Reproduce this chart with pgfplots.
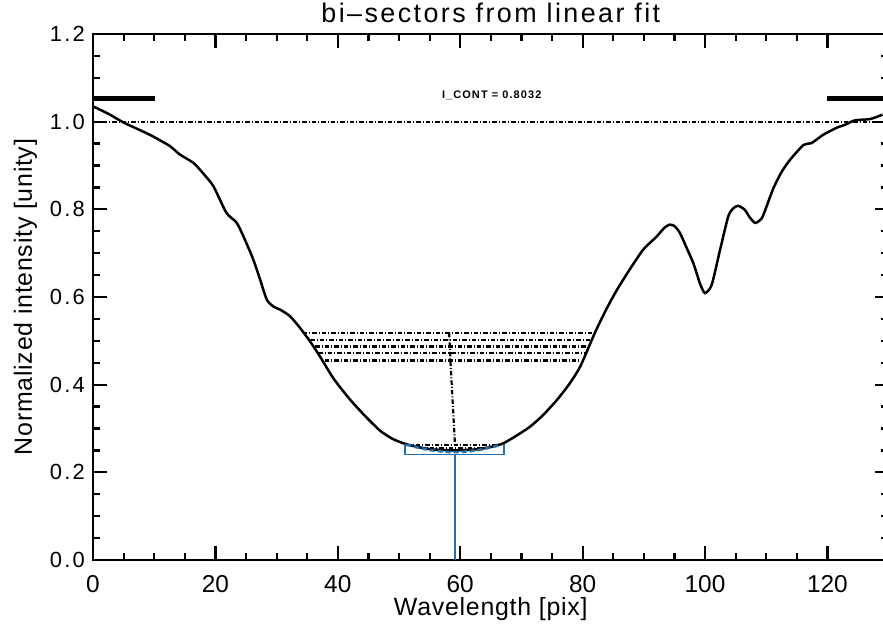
\documentclass[border=0pt]{standalone}
\usepackage{fontspec}
\setmainfont{Liberation Sans}
\newfontfamily\titlefont{Liberation Sans}[LetterSpace=9]
\newfontfamily\labfont{Liberation Sans}[LetterSpace=3]
\newfontfamily\ytickfont{Liberation Sans}[LetterSpace=10]
\newfontfamily\notefont{Liberation Sans}[LetterSpace=10]
\usepackage{pgfplots}
\pgfplotsset{compat=1.18}

\definecolor{fitblue}{RGB}{31,110,175}
\tikzset{dashdot/.style={dash pattern=on 4.5bp off 2bp on 1bp off 2bp}}

% line profile
\pgfplotstableread{
x y
0 1.035
2.5 1.018
5 0.998
7 0.985
9.3 0.970
11 0.957
12.6 0.944
14.2 0.925
16.4 0.906
18 0.882
19.7 0.852
21.8 0.792
23.5 0.769
25 0.725
26.2 0.685
27.3 0.640
28.4 0.594
29.5 0.578
30.6 0.571
32.2 0.556
33.8 0.530
35.5 0.498
37.1 0.464
39.3 0.414
42.0 0.366
44.7 0.325
47.0 0.294
49.0 0.276
51.0 0.265
53 0.258
55 0.253
57 0.251
59 0.250
61 0.251
63 0.253
65 0.258
67.0 0.266
69 0.282
71.4 0.304
73.5 0.330
75.8 0.365
77.8 0.401
79.6 0.441
82.0 0.518
83.8 0.570
85.6 0.616
87.8 0.665
89.9 0.708
92.1 0.738
93.3 0.757
94.2 0.765
95.0 0.762
95.9 0.746
97.0 0.712
98.1 0.677
99.2 0.630
100.0 0.609
101.1 0.628
102.5 0.710
103.8 0.784
104.6 0.802
105.4 0.808
106.5 0.799
107.3 0.782
108.2 0.769
109.3 0.780
110.2 0.812
111.2 0.849
112.5 0.885
113.9 0.913
116.1 0.947
117.4 0.951
119.3 0.970
121.5 0.986
122.9 0.993
124.5 1.003
127.0 1.006
129 1.016
}\profile

\begin{document}
\begin{tikzpicture}
\begin{axis}[
  name=ax,
  scale only axis,
  width=795.6bp, height=526bp,
  xmin=0, xmax=130, ymin=0, ymax=1.2,
  xtick={0,20,40,60,80,100,120},
  ytick={0,0.2,0.4,0.6,0.8,1.0,1.2},
  minor x tick num=3, minor y tick num=3,
  tick align=inside,
  axis line style={line width=2.6bp},
  every tick/.style={black, line width=2.2bp},
  major tick length=14bp, minor tick length=7.5bp,
  /pgf/number format/assume math mode=true,
  yticklabel style={/pgf/number format/.cd, fixed, fixed zerofill, precision=1,
    /tikz/.cd, font=\ytickfont\fontsize{22}{24}\selectfont, anchor=east, inner sep=0pt, xshift=-8bp},
  xticklabel style={font=\fontsize{24.5}{26}\selectfont, anchor=base, inner sep=0pt, yshift=-32bp},
  xlabel={Wavelength [pix]},
  xlabel style={font=\labfont\fontsize{25}{28}\selectfont, at={(0.5,0)}, anchor=base, yshift=-55bp, inner sep=0pt},
]
% continuum windows and level
\addplot[black, line width=5bp] coordinates {(0,1.052) (10.1,1.052)};
\addplot[black, line width=5bp] coordinates {(120,1.052) (130,1.052)};
\addplot[black, line width=1.7bp, dashdot] coordinates {(0,1.0) (130,1.0)};
\node[anchor=west, inner sep=0pt, font=\notefont\bfseries\fontsize{11}{12}\selectfont] at (axis cs:57,1.059) {I\_CONT = 0.8032};

% profile
\addplot[black, line width=2.5bp, smooth, tension=0.4] table[x=x, y=y] {\profile};

% bisector levels
\addplot[black, line width=2.2bp, dashdot] coordinates {(34.3,0.518) (82.0,0.518)};
\addplot[black, line width=2.2bp, dashdot] coordinates {(35.5,0.502) (81.2,0.502)};
\addplot[black, line width=2.2bp, dashdot] coordinates {(36.3,0.487) (80.9,0.487)};
\addplot[black, line width=2.2bp, dashdot] coordinates {(36.8,0.472) (80.6,0.472)};
\addplot[black, line width=2.2bp, dashdot] coordinates {(37.9,0.455) (79.6,0.455)};
\addplot[black, line width=1.8bp, dashdot] coordinates {(51.2,0.263) (66.8,0.263)};
\addplot[black, line width=1.8bp, dashdot] coordinates {(53.5,0.256) (64.5,0.256)};
\addplot[black, line width=1.8bp, dashdot] coordinates {(56,0.250) (62,0.250)};
% bisector
\addplot[black, line width=2.2bp, dashdot] coordinates {(58.2,0.518) (58.4,0.455) (59.15,0.262)};

% core fit
\addplot[fitblue, line width=2.6bp, dash pattern=on 5bp off 3bp, smooth] coordinates {(51.2,0.263) (55,0.251) (59.15,0.246) (63,0.251) (66.8,0.263)};
\addplot[fitblue, line width=1.7bp] coordinates {(51.0,0.265) (51.0,0.241) (67.2,0.241) (67.2,0.265)};
\addplot[fitblue, line width=1.9bp] coordinates {(59.15,0.241) (59.15,0)};
\end{axis}
\node[anchor=base, inner sep=0pt, font=\titlefont\fontsize{27}{30}\selectfont]
  at ([yshift=11bp]ax.north) {bi–sectors from linear fit};
\node[rotate=90, anchor=base, inner sep=0pt, font=\labfont\fontsize{25}{28}\selectfont]
  at ([xshift=-61bp]ax.west) {Normalized intensity [unity]};
\pgfresetboundingbox
\path[use as bounding box] ([xshift=-93bp,yshift=-66bp]ax.south west) rectangle ([xshift=-5.6bp,yshift=34bp]ax.north east);
\end{tikzpicture}
\end{document}
